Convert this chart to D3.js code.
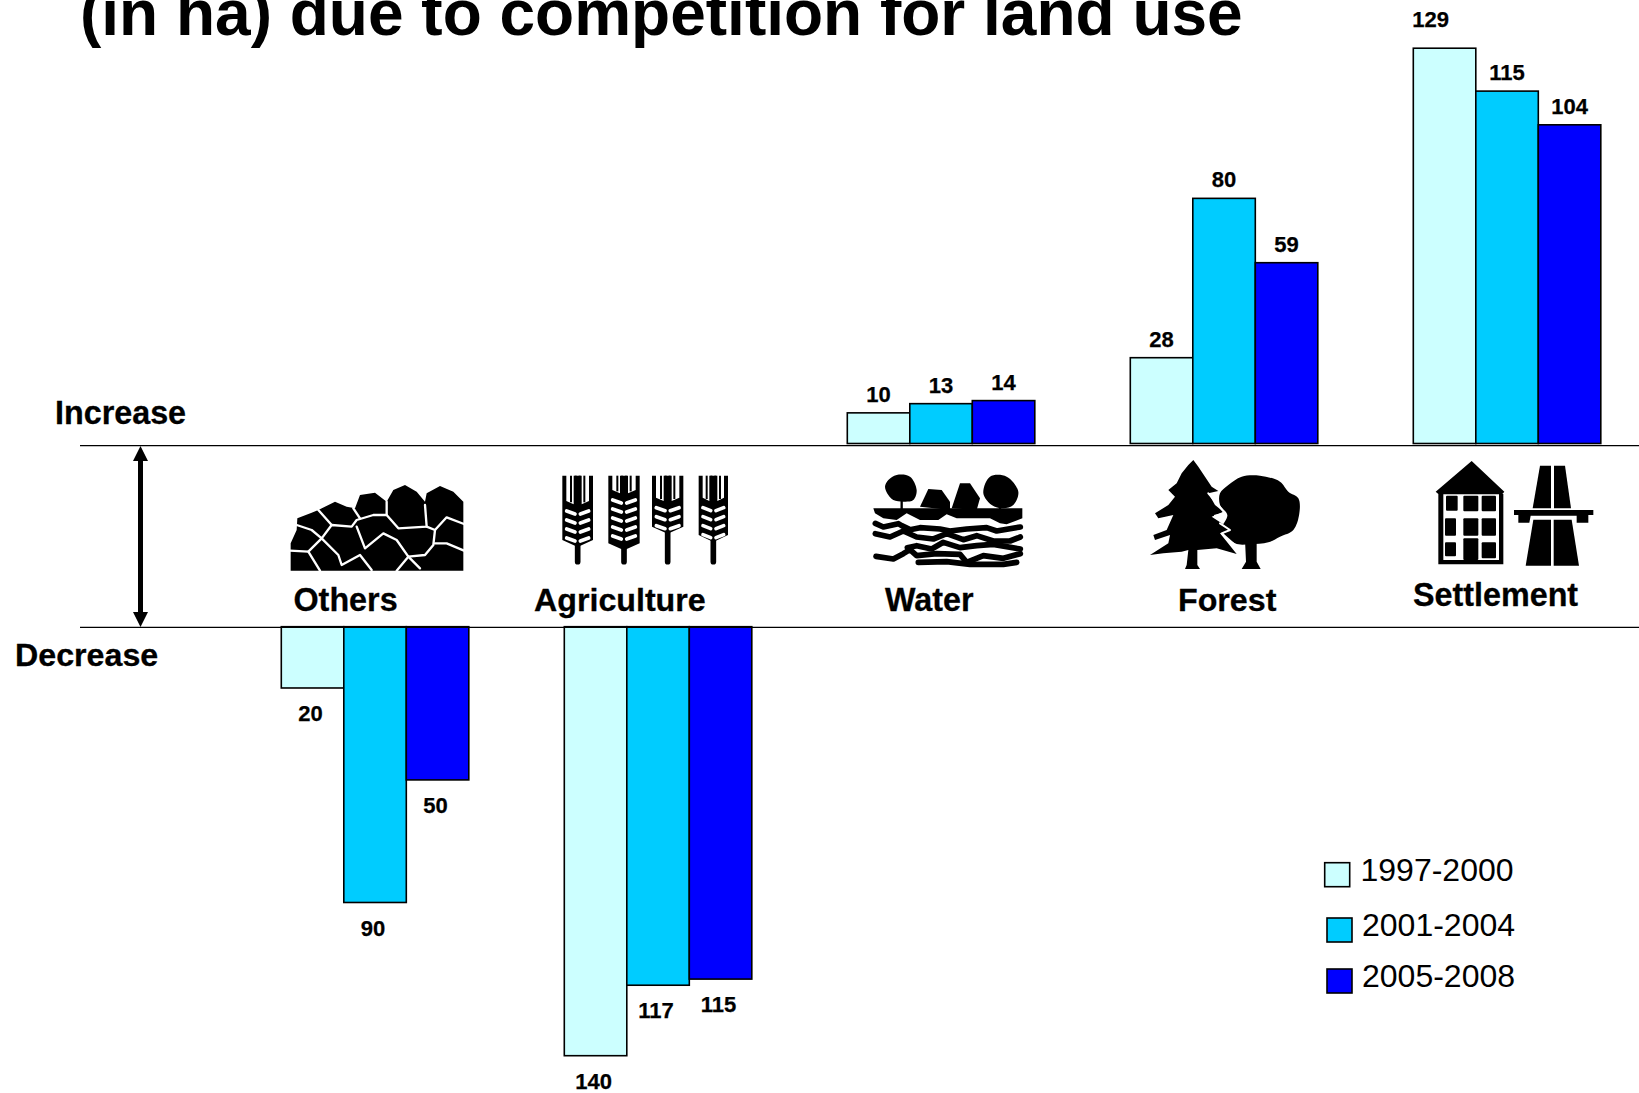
<!DOCTYPE html>
<html>
<head>
<meta charset="utf-8">
<title>Land use change</title>
<script src="https://cdnjs.cloudflare.com/ajax/libs/d3/7.8.5/d3.min.js"></script>
<style>
html,body{margin:0;padding:0;background:#fff;overflow:hidden}
svg{display:block;font-family:"Liberation Sans",Arial,sans-serif}
</style>
</head>
<body>
<svg id="chart" width="1639" height="1093"></svg>
<script>
// Land use categories, left to right
const categories = ["Others", "Agriculture", "Water", "Forest", "Settlement"];
const periods = ["1997-2000", "2001-2004", "2005-2008"];
const periodColors = ["#CCFFFF", "#00CCFF", "#0000FF"];

// Area in ha per period; Others and Agriculture lose land, the rest gain it
const directions = ["decrease", "decrease", "increase", "increase", "increase"];
const values1997 = [20, 140, 10, 28, 129];
const values2001 = [90, 117, 13, 80, 115];
const values2005 = [50, 115, 14, 59, 104];
const series = [values1997, values2001, values2005];

const titleText = "(in ha) due to competition for land use";

const W = 1639, H = 1093;
const upperAxis = 445.7, lowerAxis = 627.3;
const svg = d3.select("#chart");

const x0 = d3.scaleBand().domain(categories)
  .range([281.3, 281.3 + 283 * 5 - 95.5]).paddingInner(95.5 / 283).paddingOuter(0);
const x1 = d3.scaleBand().domain(d3.range(periods.length)).range([0, x0.bandwidth()]);
const h = d3.scaleLinear().domain([0, 140]).range([0, 429]);

const records = [];
categories.forEach((c, i) => series.forEach((s, k) => records.push({
  cat: c, k, v: s[i], dir: directions[i]
})));

// Title, running off the top edge of the page
svg.append("text").attr("x", 80).attr("y", 35)
  .attr("font-size", 64).attr("font-weight", 700).text(titleText);

// Bars
svg.append("g").selectAll("rect").data(records).join("rect")
  .attr("x", d => x0(d.cat) + x1(d.k))
  .attr("width", x1.bandwidth())
  .attr("y", d => d.dir === "increase" ? upperAxis - 2.2 - h(d.v) : lowerAxis - 0.6)
  .attr("height", d => h(d.v))
  .attr("fill", d => periodColors[d.k])
  .attr("stroke", "#000").attr("stroke-width", 1.6);

// Reference lines
[upperAxis, lowerAxis].forEach(y => svg.append("line")
  .attr("x1", 80).attr("x2", W).attr("y1", y).attr("y2", y)
  .attr("stroke", "#000").attr("stroke-width", 1.3));

// Value labels; the tallest bar's label sits up and to the left of its bar
const isRaised = d => d.cat === "Settlement" && d.k === 0;
svg.append("g").selectAll("text").data(records).join("text")
  .attr("text-anchor", "middle")
  .attr("font-size", 22).attr("font-weight", 700)
  .attr("stroke", "#000").attr("stroke-width", 0.25)
  .attr("x", d => x0(d.cat) + x1(d.k) + x1.bandwidth() / 2 + (isRaised(d) ? -14 : d.dir === "decrease" ? -2 : 0))
  .attr("y", d => d.dir === "increase"
    ? upperAxis - 2.2 - h(d.v) - (isRaised(d) ? 21 : 11)
    : lowerAxis + h(d.v) + 32.5)
  .text(d => d.v);

// Category and direction labels
const boldLabels = [
  ["Increase", 55, 424, 32.3], ["Decrease", 15, 666, 32.2],
  ["Others", 293.5, 611, 32.3], ["Agriculture", 534, 611, 32.2],
  ["Water", 885, 611, 32.3], ["Forest", 1178, 611, 32.2], ["Settlement", 1413, 606, 32.3]
];
svg.append("g").selectAll("text").data(boldLabels).join("text")
  .attr("x", d => d[1]).attr("y", d => d[2]).attr("font-size", d => d[3])
  .attr("stroke", "#000").attr("stroke-width", 0.3)
  .attr("font-weight", 700).text(d => d[0]);

// Double-headed arrow between the two lines
svg.append("path").attr("fill", "#000")
  .attr("d", "M140.5 446 L148 461 L143 461 L143 612 L148 612 L140.5 627 L133 612 L138 612 L138 461 L133 461 Z");

// Legend
const legendPos = [
  {sx: 1324.7, sy: 862.7, tx: 1360.5, ty: 881},
  {sx: 1327, sy: 918, tx: 1362, ty: 936},
  {sx: 1327, sy: 969, tx: 1362, ty: 987}
];
const legend = svg.append("g").selectAll("g").data(periods).join("g");
legend.append("rect")
  .attr("x", (d, i) => legendPos[i].sx).attr("y", (d, i) => legendPos[i].sy)
  .attr("width", 25).attr("height", 24)
  .attr("fill", (d, i) => periodColors[i]).attr("stroke", "#000").attr("stroke-width", 1.6);
legend.append("text")
  .attr("x", (d, i) => legendPos[i].tx).attr("y", (d, i) => legendPos[i].ty)
  .attr("font-size", 32).text(d => d);

// Pictograms, drawn at three times their size and scaled down
const defs = svg.append("defs");
defs.append("filter").attr("id", "soft").append("feGaussianBlur").attr("stdDeviation", 0.55);
const icon = (x, y) => svg.append("g").attr("transform", `translate(${x},${y}) scale(${1 / 3})`);
const poly = (g, pts, fill = "#000") => g.append("polygon").attr("points", pts).attr("fill", fill);
const toPairs = pts => pts.split(" ").map(p => p.split(",").map(Number));
const blob = (g, pts, fill = "#000") => g.append("path").attr("fill", fill)
  .attr("d", d3.line().curve(d3.curveCatmullRomClosed.alpha(0.5))(toPairs(pts)));
const wire = (g, pts, color, w) => g.append("polyline").attr("points", pts)
  .attr("fill", "none").attr("stroke", color).attr("stroke-width", w)
  .attr("stroke-linejoin", "round").attr("stroke-linecap", "round");

// Others: cracked stones
const stones = icon(250, 430);
poly(stones, "122,422 122,340 140,300 142,265 185,248 205,240 255,215 290,230 315,235 330,195 375,188 410,215 430,180 465,165 500,185 525,215 530,190 570,168 610,185 640,215 640,422");
[
  "140,285 185,300 215,325 245,285 305,290 320,270 370,255 410,255 445,295 530,290 525,225",
  "215,325 175,365 210,422", "120,362 175,365",
  "215,325 265,375 275,405 330,375 365,420",
  "320,290 345,355 400,310 440,330 475,380 440,422",
  "475,380 510,415", "475,380 525,375 550,345 555,300 530,290",
  "555,300 590,262 642,282", "555,340 590,340 642,362",
  "205,240 245,285", "310,235 330,265", "410,215 410,255"
].forEach(p => wire(stones, p, "#fff", 7));

// Agriculture: four ears of wheat
const wheat = icon(555, 470).attr("filter", "url(#soft)");
[[68, 46, 225, 105], [207, 47, 235, 72], [338, 47, 185, 95], [475, 44, 210, 95]].forEach(([cx, hw, bottom, grainTop]) => {
  wire(wheat, `${cx},${bottom} ${cx},275`, "#000", 17);
  wheat.append("path").attr("fill", "#000")
    .attr("d", `M${cx - hw} 17 H${cx - hw + 12} V${grainTop - 12} L${cx - 12} ${grainTop - 2} V17 H${cx + 12} V${grainTop - 2} L${cx + hw - 12} ${grainTop - 12} V17 H${cx + hw} V${bottom - 15} L${cx} ${bottom + 6} L${cx - hw} ${bottom - 15} Z`);
  [cx - 20, cx - 6, cx + 6, cx + 20].forEach(ax => {
    wheat.append("line").attr("x1", ax).attr("x2", ax).attr("y1", 17).attr("y2", grainTop - 8)
      .attr("stroke", "#000").attr("stroke-width", 6);
  });
  for (let y = grainTop + 22; y < bottom - 8; y += 27) {
    [-1, 1].forEach(side => wire(wheat,
      `${cx + side * 8},${y + 5} ${cx + side * (hw - 13)},${y - 4}`, "#fff", 11));
  }
});

// Water: trees on a bank above rippling water
const water = icon(860, 465);
blob(water, "75,65 85,45 110,30 150,35 170,75 160,105 130,110 100,105 85,90");
poly(water, "180,125 205,72 245,75 270,110 270,135");
poly(water, "275,130 300,55 330,55 360,100 350,135");
blob(water, "370,85 390,35 440,35 475,80 460,120 430,130 395,120");
wire(water, "125,105 125,135", "#000", 7);
wire(water, "420,120 420,140", "#000", 7);
poly(water, "40,130 487,130 487,160 440,178 420,175 390,160 330,160 290,160 260,148 235,165 180,165 140,145 110,165 70,160 45,145");
[
  "46,175 70,186 115,176 125,182 150,194 180,188 240,192 270,198 320,192 380,188 410,198 481,186",
  "46,206 90,216 130,198 170,216 220,222 260,206 310,224 350,212 400,228 450,228 481,216",
  "142,248 170,242 215,252 250,232 300,248 350,242 400,238 481,252",
  "48,274 100,282 130,266 150,254 170,272 230,266 300,268 320,292 370,272 430,280 481,266",
  "175,292 260,290 330,298 430,298 470,292"
].forEach(p => wire(water, p, "#000", 17));

// Forest: a fir beside a broadleaf tree
const forest = icon(1140, 455);
blob(forest, "240,115 265,90 305,65 360,62 420,80 445,110 475,130 478,175 460,225 420,245 385,262 330,268 285,265 245,225 262,180 240,150");
poly(forest, "315,255 350,255 350,320 362,342 305,342 318,320");
poly(forest, "160,15 175,35 195,65 215,95 235,108 205,115 225,150 250,170 215,185 245,205 275,228 240,235 290,297 230,280 172,285 172,330 180,342 135,342 140,330 145,285 125,290 70,295 30,300 85,265 90,240 45,255 40,240 80,225 100,180 55,190 45,175 85,150 105,125 85,105 110,85 125,55 145,30");
wire(forest, "205,115 235,150 255,175 225,182", "#fff", 6);
wire(forest, "240,205 270,225 245,235 285,270", "#fff", 6);

// Settlement: a house and a motorway under a bridge
const town = icon(1425, 455);
poly(town, "140,18 238,110 232,117 235,117 235,328 40,328 40,117 32,110");
poly(town, "55,118 222,118 222,315 55,315", "#fff");
[[63, 122, 35, 45], [115, 122, 45, 47], [170, 122, 43, 47], [60, 190, 33, 52], [115, 190, 45, 52],
 [170, 190, 43, 52], [60, 262, 33, 42], [115, 250, 45, 65], [170, 262, 43, 48]].forEach(([x, y, w, hh]) =>
  town.append("rect").attr("x", x).attr("y", y).attr("width", w).attr("height", hh).attr("rx", 3));
poly(town, "345,32 378,32 378,160 323,160");
poly(town, "387,32 420,32 438,160 387,160");
poly(town, "267,165 505,165 505,180 490,180 490,203 455,203 455,182 317,182 313,203 280,203 280,180 267,180");
poly(town, "325,194 378,194 378,332 302,332");
poly(town, "386,194 440,194 462,332 386,332");
</script>
</body>
</html>
